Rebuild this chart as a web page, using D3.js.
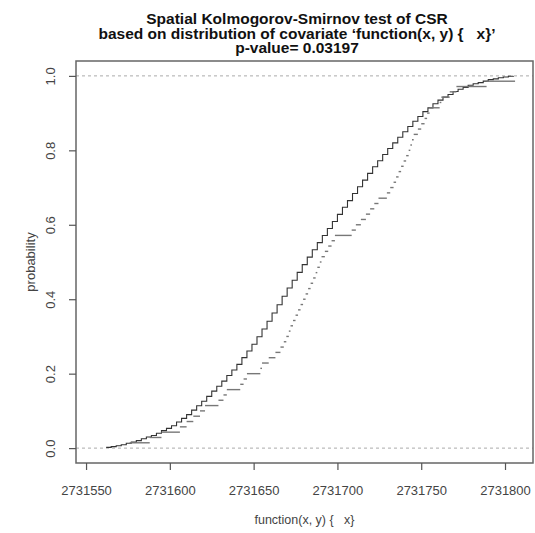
<!DOCTYPE html>
<html>
<head>
<meta charset="utf-8">
<script src="https://cdn.jsdelivr.net/npm/d3@7"></script>
<style>
  body { margin: 0; background: #fff; }
  text { font-family: "Liberation Sans", Arial, sans-serif; }
</style>
</head>
<body>
<div id="chart"></div>
<script>
// title lines and axis labels
var titleLines = ["Spatial Kolmogorov-Smirnov test of CSR",
                  "based on distribution of covariate \u2018function(x, y) {   x}\u2019",
                  "p-value= 0.03197"];
var xLabel = "function(x, y) {   x}";
var yLabel = "probability";
var xTicks = [2731550, 2731600, 2731650, 2731700, 2731750, 2731800];
var yTicks = [0, 0.2, 0.4, 0.6, 0.8, 1.0];

// expected cdf (fine staircase, solid)
var expX = [2731562, 2731565, 2731568, 2731571, 2731574, 2731577, 2731580, 2731583, 2731586, 2731589,
            2731592, 2731595, 2731598, 2731601, 2731604, 2731607, 2731610, 2731613, 2731616, 2731619,
            2731622, 2731625, 2731628, 2731631, 2731634, 2731637, 2731640, 2731643, 2731646, 2731649,
            2731652, 2731655, 2731658, 2731661, 2731664, 2731667, 2731670, 2731673, 2731676, 2731679,
            2731682, 2731685, 2731688, 2731691, 2731694, 2731697, 2731700, 2731703, 2731706, 2731709,
            2731712, 2731715, 2731718, 2731721, 2731724, 2731727, 2731730, 2731733, 2731736, 2731739,
            2731742, 2731745, 2731748, 2731751, 2731754, 2731757, 2731760, 2731763, 2731766, 2731769,
            2731772, 2731775, 2731778, 2731781, 2731784, 2731787, 2731790, 2731793, 2731796, 2731799,
            2731802, 2731805];
var expP = [0.002, 0.004, 0.0065, 0.009, 0.013, 0.016, 0.020, 0.025, 0.030, 0.034,
            0.040, 0.047, 0.053, 0.060, 0.070, 0.080, 0.090, 0.102, 0.114, 0.126,
            0.139, 0.153, 0.166, 0.180, 0.195, 0.210, 0.225, 0.243, 0.261, 0.279,
            0.299, 0.320, 0.341, 0.363, 0.385, 0.408, 0.430, 0.451, 0.472, 0.493,
            0.513, 0.533, 0.552, 0.571, 0.590, 0.609, 0.628, 0.647, 0.665, 0.684,
            0.702, 0.720, 0.738, 0.756, 0.772, 0.789, 0.805, 0.820, 0.835, 0.850,
            0.864, 0.878, 0.891, 0.904, 0.914, 0.925, 0.935, 0.943, 0.950, 0.958,
            0.964, 0.969, 0.975, 0.979, 0.982, 0.986, 0.990, 0.992, 0.995, 0.997,
            0.999, 1.0];

// observed covariate values (sorted), empirical cdf
var obsX = [2731576, 2731588, 2731595, 2731606, 2731610, 2731614, 2731618, 2731621, 2731629, 2731632,
            2731634, 2731642, 2731644, 2731646, 2731654, 2731655, 2731659, 2731663, 2731666, 2731668,
            2731669.5, 2731671, 2731672, 2731673.5, 2731675, 2731676.5, 2731678, 2731679.5, 2731681, 2731682.5,
            2731684, 2731685.5, 2731687, 2731688, 2731689.5, 2731690.5, 2731692.5, 2731694.5, 2731696.5, 2731698.5,
            2731708.5, 2731711, 2731714, 2731717, 2731719.5, 2731722, 2731724.5, 2731729.5, 2731731.5, 2731733.5,
            2731735, 2731736.5, 2731738, 2731739.5, 2731741, 2731742.5, 2731743.5, 2731744.5, 2731745.5, 2731748,
            2731750, 2731752, 2731753.5, 2731755, 2731761, 2731762, 2731767, 2731771, 2731789, 2731806];

var W = 535, H = 533,
    plotL = 76, plotT = 61, plotR = 533, plotB = 463;

var svg = d3.select('#chart').append('svg').attr('width', W).attr('height', H);
svg.append('rect').attr('width', W).attr('height', H).attr('fill', '#fff');

var x = d3.scaleLinear().domain([2731544, 2731816.7]).range([plotL, plotR]);
var y = d3.scaleLinear().domain([-0.04, 1.04]).range([plotB, plotT]);

// reference lines at 0 and 1
svg.selectAll('.ref').data([0, 1]).enter().append('line').attr('class', 'ref')
  .attr('x1', plotL).attr('x2', plotR).attr('y1', function(d) { return y(d); }).attr('y2', function(d) { return y(d); })
  .attr('stroke', '#aaa').attr('stroke-width', 1).attr('stroke-dasharray', '3,3');

// expected cdf as step line
var expData = expX.map(function(v, i) { return [v, expP[i]]; });
var stepLine = d3.line().x(function(d) { return x(d[0]); }).y(function(d) { return y(d[1]); }).curve(d3.curveStepAfter);
svg.append('path').datum(expData).attr('d', stepLine)
  .attr('fill', 'none').attr('stroke', '#333').attr('stroke-width', 1.1);

// observed ecdf, horizontal pieces only
var n = obsX.length;
var segs = obsX.slice(0, n - 1).map(function(v, i) { return {x0: v, x1: obsX[i + 1], p: (i + 1) / n}; });
svg.selectAll('.obs').data(segs).enter().append('line').attr('class', 'obs')
  .attr('x1', function(d) { return x(d.x0); }).attr('x2', function(d) { return x(d.x1); })
  .attr('y1', function(d) { return y(d.p); }).attr('y2', function(d) { return y(d.p); })
  .attr('stroke', '#777').attr('stroke-width', 1.4);

// box
svg.append('rect').attr('x', plotL).attr('y', plotT).attr('width', plotR - plotL).attr('height', plotB - plotT)
  .attr('fill', 'none').attr('stroke', '#666').attr('stroke-width', 1.5);

// axes
var gx = svg.append('g').attr('transform', 'translate(0,' + plotB + ')')
  .call(d3.axisBottom(x).tickValues(xTicks).tickSize(7).tickPadding(16).tickFormat(d3.format('d')));
var gy = svg.append('g').attr('transform', 'translate(' + plotL + ',0)')
  .call(d3.axisLeft(y).tickValues(yTicks).tickSize(7).tickFormat(d3.format('.1f')));
[gx, gy].forEach(function(g) {
  g.select('.domain').remove();
  g.selectAll('.tick line').attr('stroke', '#555').attr('stroke-width', 1.2);
  g.selectAll('.tick text').attr('fill', '#444').style('font-size', '13px').style('font-family', '"Liberation Sans", Arial, sans-serif');
});
gy.selectAll('.tick text').attr('x', 0).attr('dy', 0).attr('text-anchor', 'middle')
  .attr('transform', 'translate(-21,0) rotate(-90)');

// axis titles
svg.append('text').attr('x', (plotL + plotR) / 2).attr('y', 524).attr('text-anchor', 'middle')
  .style('font-size', '12.5px').style('white-space', 'pre').attr('fill', '#444').text(xLabel);
svg.append('text').attr('transform', 'translate(34.5,' + ((plotT + plotB) / 2) + ') rotate(-90)').attr('text-anchor', 'middle')
  .style('font-size', '13px').attr('fill', '#444').text(yLabel);

// main title
svg.selectAll('.title').data(titleLines).enter().append('text').attr('class', 'title')
  .attr('x', 297).attr('y', function(d, i) { return 24 + i * 14.5; }).attr('text-anchor', 'middle')
  .style('font-size', '15.5px').style('font-weight', 'bold').style('white-space', 'pre').attr('fill', '#111')
  .text(function(d) { return d; });
</script>
</body>
</html>
